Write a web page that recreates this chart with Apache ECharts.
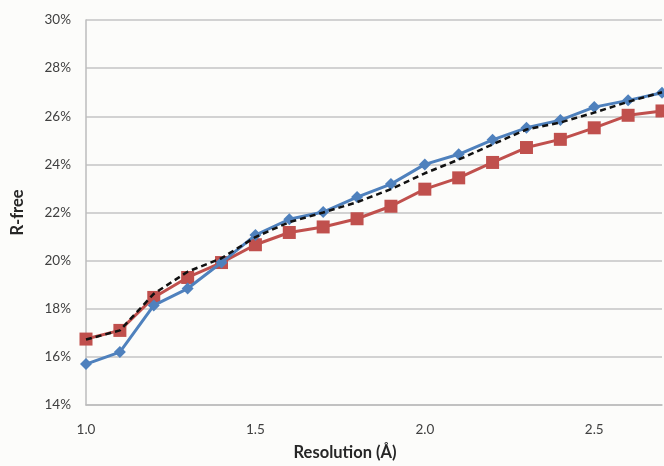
<!DOCTYPE html>
<html>
<head>
<meta charset="utf-8">
<script src="https://cdn.jsdelivr.net/npm/echarts@6/dist/echarts.min.js"></script>
<style>
  html, body { margin: 0; padding: 0; background: #fcfcfa; }
  #chart { width: 664px; height: 466px; }
</style>
</head>
<body>
<div id="chart"></div>
<script>
// resolution (Å) and R-free values (%)
const resolution = [1.0, 1.1, 1.2, 1.3, 1.4, 1.5, 1.6, 1.7, 1.8, 1.9, 2.0, 2.1, 2.2, 2.3, 2.4, 2.5, 2.6, 2.7];
const blueVals = [15.7, 16.2, 18.14, 18.84, 19.92, 21.06, 21.72, 22.02, 22.64, 23.18, 24.0, 24.42, 25.02, 25.52, 25.84, 26.38, 26.66, 26.98];
const redVals = [16.74, 17.1, 18.47, 19.3, 19.92, 20.66, 21.17, 21.4, 21.74, 22.26, 22.97, 23.44, 24.08, 24.7, 25.04, 25.52, 26.04, 26.22];
const dashVals = [16.72, 17.1, 18.62, 19.54, 20.1, 20.98, 21.6, 22.0, 22.43, 22.97, 23.63, 24.2, 24.83, 25.45, 25.74, 26.15, 26.6, 27.0];
const yTicks = [14, 16, 18, 20, 22, 24, 26, 28, 30];

const pairs = vals => resolution.map((x, i) => [x, vals[i]]);

let myChart = echarts.init(document.getElementById("chart"));
myChart.setOption({
  backgroundColor: "#fcfcfa",
  animation: false,
  grid: { left: 86, right: 2, top: 20, bottom: 59 },
  xAxis: {
    type: "value",
    min: 1.0,
    max: 2.7,
    interval: 0.5,
    name: "Resolution (Å)",
    nameLocation: "middle",
    nameGap: 39,
    nameTextStyle: {
      fontFamily: "Lato", fontSize: 16.5, fontWeight: "bold", color: "#262626",
      padding: [0, 58, 0, 0]
    },
    axisLine: { lineStyle: { color: "#bcbcbc", width: 1.5 } },
    axisTick: { show: false },
    splitLine: { show: false },
    axisLabel: {
      showMaxLabel: false,
      margin: 18,
      fontFamily: "Lato", fontSize: 13.5, color: "#404040",
      formatter: v => v.toFixed(1)
    }
  },
  yAxis: {
    type: "value",
    min: yTicks[0],
    max: yTicks[yTicks.length - 1],
    interval: 2,
    name: "R-free",
    nameLocation: "middle",
    nameGap: 60,
    nameTextStyle: { fontFamily: "Lato", fontSize: 16.5, fontWeight: "bold", color: "#262626" },
    axisLine: { show: true, lineStyle: { color: "#bcbcbc", width: 1.5 } },
    axisTick: { show: false },
    splitLine: { lineStyle: { color: "#c4c4c4", width: 1.5 } },
    axisLabel: {
      margin: 15,
      fontFamily: "Lato", fontSize: 13.5, color: "#404040",
      formatter: v => v + "%"
    }
  },
  series: [
    {
      name: "red",
      type: "line",
      data: pairs(redVals),
      symbol: "rect",
      symbolSize: 13,
      itemStyle: { color: "#c0504d" },
      lineStyle: { color: "#c0504d", width: 3 },
      z: 2
    },
    {
      name: "blue",
      type: "line",
      data: pairs(blueVals),
      symbol: "diamond",
      symbolSize: 12,
      itemStyle: { color: "#4f81bd" },
      lineStyle: { color: "#4f81bd", width: 3 },
      z: 3
    },
    {
      name: "dashed",
      type: "line",
      data: pairs(dashVals),
      symbol: "none",
      lineStyle: { color: "#111111", width: 2.5, type: [6, 4] },
      z: 4
    }
  ]
});
</script>
</body>
</html>
